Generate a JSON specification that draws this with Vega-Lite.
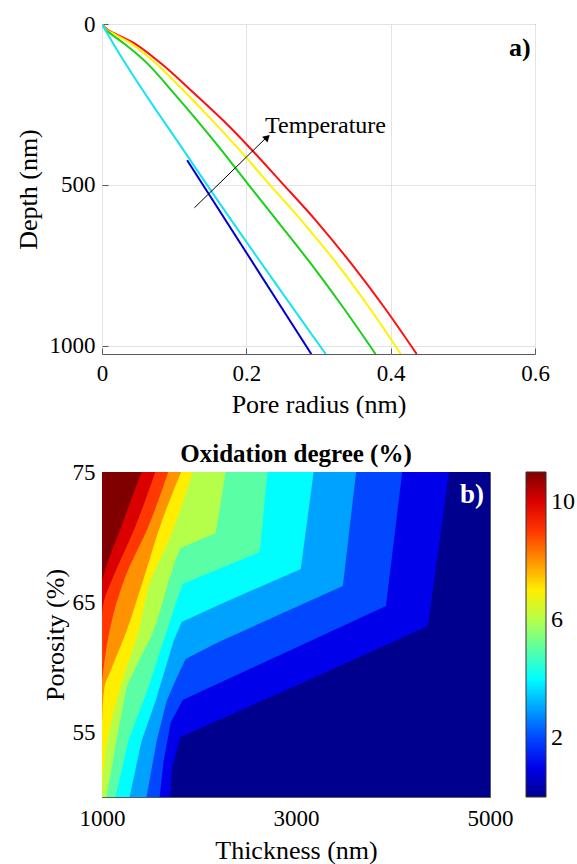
{
  "$schema": "https://vega.github.io/schema/vega-lite/v6.json",
  "background": "white",
  "padding": {"left": 14, "top": 12, "right": 5, "bottom": 5},
  "config": {
    "font": "'Liberation Serif', 'Times New Roman', serif",
    "view": {"stroke": "#5a5a5a", "strokeWidth": 1},
    "axis": {
      "domain": false,
      "labelFont": "'Liberation Serif', 'Times New Roman', serif",
      "labelFontSize": 23,
      "labelColor": "#000000",
      "titleFont": "'Liberation Serif', 'Times New Roman', serif",
      "titleFontSize": 26,
      "titleFontWeight": "normal",
      "titleColor": "#000000",
      "tickColor": "#5a5a5a",
      "tickSize": -6,
      "labelFlush": false,
      "labelOverlap": false,
      "grid": false
    },
    "legend": {"labelFont": "'Liberation Serif', 'Times New Roman', serif"},
    "title": {"font": "'Liberation Serif', 'Times New Roman', serif"},
    "text": {"font": "'Liberation Serif', 'Times New Roman', serif"}
  },
  "datasets": {
    "lines": [
      {"s": "red", "r": 0, "d": 0}, {"s": "red", "r": 0.006, "d": 15}, {"s": "red", "r": 0.018, "d": 30}, {"s": "red", "r": 0.045, "d": 60}, {"s": "red", "r": 0.082, "d": 123}, {"s": "red", "r": 0.128, "d": 216}, {"s": "red", "r": 0.168, "d": 300}, {"s": "red", "r": 0.205, "d": 385}, {"s": "red", "r": 0.247, "d": 488}, {"s": "red", "r": 0.297, "d": 612}, {"s": "red", "r": 0.346, "d": 746}, {"s": "red", "r": 0.392, "d": 883}, {"s": "red", "r": 0.436, "d": 1025},
      {"s": "yellow", "r": 0, "d": 0}, {"s": "yellow", "r": 0.005, "d": 15}, {"s": "yellow", "r": 0.016, "d": 30}, {"s": "yellow", "r": 0.04, "d": 60}, {"s": "yellow", "r": 0.075, "d": 123}, {"s": "yellow", "r": 0.117, "d": 216}, {"s": "yellow", "r": 0.153, "d": 300}, {"s": "yellow", "r": 0.188, "d": 385}, {"s": "yellow", "r": 0.228, "d": 488}, {"s": "yellow", "r": 0.277, "d": 612}, {"s": "yellow", "r": 0.326, "d": 746}, {"s": "yellow", "r": 0.371, "d": 883}, {"s": "yellow", "r": 0.414, "d": 1025},
      {"s": "green", "r": 0, "d": 0}, {"s": "green", "r": 0.004, "d": 15}, {"s": "green", "r": 0.012, "d": 30}, {"s": "green", "r": 0.03, "d": 60}, {"s": "green", "r": 0.063, "d": 123}, {"s": "green", "r": 0.1, "d": 216}, {"s": "green", "r": 0.132, "d": 300}, {"s": "green", "r": 0.163, "d": 385}, {"s": "green", "r": 0.199, "d": 488}, {"s": "green", "r": 0.243, "d": 612}, {"s": "green", "r": 0.29, "d": 746}, {"s": "green", "r": 0.335, "d": 883}, {"s": "green", "r": 0.379, "d": 1025},
      {"s": "cyan", "r": 0, "d": 0}, {"s": "cyan", "r": 0.005, "d": 20}, {"s": "cyan", "r": 0.12, "d": 415}, {"s": "cyan", "r": 0.31, "d": 1025},
      {"s": "blue", "r": 0.118, "d": 423}, {"s": "blue", "r": 0.29, "d": 1025}
    ],
    "arrow": [{"r": 0.128, "d": 571, "r2": 0.229, "d2": 350}],
    "arrowhead": [{"r": 0.229, "d": 352}],
    "tempLabel": [{"r": 0.226, "d": 318, "t": "Temperature"}],
    "panelA": [{"r": 0.594, "d": 100, "t": "a)"}],
    "bands": [
      {"level": 0, "P": 50, "T": 5000}, {"level": 0, "P": 75, "T": 5000},
      {"level": 1, "P": 75, "T": 4577}, {"level": 1, "P": 63.15, "T": 4360}, {"level": 1, "P": 58.31, "T": 2925}, {"level": 1, "P": 54.62, "T": 1810}, {"level": 1, "P": 53.54, "T": 1769}, {"level": 1, "P": 52.0, "T": 1717}, {"level": 1, "P": 50, "T": 1704},
      {"level": 2, "P": 75, "T": 4095}, {"level": 2, "P": 64.69, "T": 3927}, {"level": 2, "P": 61.23, "T": 2925}, {"level": 2, "P": 57.46, "T": 1831}, {"level": 2, "P": 55.69, "T": 1707}, {"level": 2, "P": 52.77, "T": 1635}, {"level": 2, "P": 50, "T": 1594},
      {"level": 3, "P": 75, "T": 3620}, {"level": 3, "P": 66.23, "T": 3483}, {"level": 3, "P": 61.92, "T": 2203}, {"level": 3, "P": 60.62, "T": 1862}, {"level": 3, "P": 59.15, "T": 1769}, {"level": 3, "P": 57.38, "T": 1666}, {"level": 3, "P": 54.31, "T": 1563}, {"level": 3, "P": 50, "T": 1459},
      {"level": 4, "P": 75, "T": 3182}, {"level": 4, "P": 67.54, "T": 3049}, {"level": 4, "P": 64.77, "T": 2203}, {"level": 4, "P": 63.46, "T": 1821}, {"level": 4, "P": 62.0, "T": 1738}, {"level": 4, "P": 59.69, "T": 1645}, {"level": 4, "P": 57.38, "T": 1552}, {"level": 4, "P": 54.31, "T": 1408}, {"level": 4, "P": 50, "T": 1284},
      {"level": 5, "P": 75, "T": 2707}, {"level": 5, "P": 68.85, "T": 2626}, {"level": 5, "P": 66.38, "T": 1831}, {"level": 5, "P": 65.31, "T": 1779}, {"level": 5, "P": 63.15, "T": 1686}, {"level": 5, "P": 60.85, "T": 1583}, {"level": 5, "P": 58.46, "T": 1480}, {"level": 5, "P": 54.38, "T": 1274}, {"level": 5, "P": 50, "T": 1139},
      {"level": 6, "P": 75, "T": 2275}, {"level": 6, "P": 70.31, "T": 2172}, {"level": 6, "P": 69.15, "T": 1810}, {"level": 6, "P": 68.46, "T": 1769}, {"level": 6, "P": 66.62, "T": 1686}, {"level": 6, "P": 63.92, "T": 1583}, {"level": 6, "P": 62.38, "T": 1511}, {"level": 6, "P": 60.46, "T": 1377}, {"level": 6, "P": 58.46, "T": 1253}, {"level": 6, "P": 54.38, "T": 1150}, {"level": 6, "P": 50, "T": 1046},
      {"level": 7, "P": 75, "T": 1935}, {"level": 7, "P": 72.38, "T": 1820}, {"level": 7, "P": 70.08, "T": 1707}, {"level": 7, "P": 66.62, "T": 1501}, {"level": 7, "P": 62.77, "T": 1377}, {"level": 7, "P": 58.46, "T": 1191}, {"level": 7, "P": 54.38, "T": 1057}, {"level": 7, "P": 50.85, "T": 1005}, {"level": 7, "P": 50, "T": 1000},
      {"level": 8, "P": 75, "T": 1815}, {"level": 8, "P": 71.38, "T": 1625}, {"level": 8, "P": 66.77, "T": 1428}, {"level": 8, "P": 62.77, "T": 1253}, {"level": 8, "P": 59.69, "T": 1088}, {"level": 8, "P": 58.46, "T": 1026}, {"level": 8, "P": 55.85, "T": 1000},
      {"level": 9, "P": 75, "T": 1683}, {"level": 9, "P": 70.85, "T": 1480}, {"level": 9, "P": 66.77, "T": 1232}, {"level": 9, "P": 63.15, "T": 1088}, {"level": 9, "P": 60.46, "T": 1026}, {"level": 9, "P": 58.92, "T": 1000},
      {"level": 10, "P": 75, "T": 1550}, {"level": 10, "P": 70.85, "T": 1346}, {"level": 10, "P": 66.62, "T": 1098}, {"level": 10, "P": 65.23, "T": 1026}, {"level": 10, "P": 64.15, "T": 1000},
      {"level": 11, "P": 75, "T": 1405}, {"level": 11, "P": 70.85, "T": 1201}, {"level": 11, "P": 67.54, "T": 1036}, {"level": 11, "P": 66.62, "T": 1000}
    ],
    "panelB": [{"T": 4938, "P": 72.6, "t": "b)"}]
  },
  "vconcat": [
    {
      "width": 433,
      "height": 330,
      "layer": [
        {
          "data": {"name": "lines"},
          "mark": {"type": "line", "strokeWidth": 2, "clip": true, "interpolate": "monotone"},
          "encoding": {
            "x": {"field": "r", "type": "quantitative", "scale": {"domain": [0, 0.6], "nice": false},
              "axis": {"values": [0, 0.2, 0.4, 0.6], "format": "~g", "grid": true, "gridColor": "#e3e3e3", "title": "Pore radius (nm)", "labelPadding": 14, "titlePadding": 6}},
            "y": {"field": "d", "type": "quantitative", "scale": {"domain": [0, 1025], "nice": false, "reverse": true},
              "axis": {"values": [0, 500, 1000], "format": "d", "grid": true, "gridColor": "#e3e3e3", "title": "Depth (nm)", "labelPadding": 13, "titlePadding": 8}},
            "color": {"field": "s", "type": "nominal", "scale": {"domain": ["blue", "cyan", "green", "yellow", "red"], "range": ["#0000d0", "#19e3f0", "#18d018", "#fff200", "#ff1010"]}, "legend": null},
            "order": {"field": "d", "type": "quantitative"}
          }
        },
        {
          "data": {"name": "arrow"},
          "mark": {"type": "rule", "color": "#000000", "strokeWidth": 1},
          "encoding": {
            "x": {"field": "r", "type": "quantitative"},
            "y": {"field": "d", "type": "quantitative"},
            "x2": {"field": "r2"},
            "y2": {"field": "d2"}
          }
        },
        {
          "data": {"name": "arrowhead"},
          "mark": {"type": "point", "shape": "triangle-up", "filled": true, "color": "#000000", "size": 60, "angle": 46, "opacity": 1},
          "encoding": {
            "x": {"field": "r", "type": "quantitative"},
            "y": {"field": "d", "type": "quantitative"}
          }
        },
        {
          "data": {"name": "tempLabel"},
          "mark": {"type": "text", "align": "left", "baseline": "middle", "fontSize": 24, "color": "#000000"},
          "encoding": {
            "x": {"field": "r", "type": "quantitative"},
            "y": {"field": "d", "type": "quantitative"},
            "text": {"field": "t"}
          }
        },
        {
          "data": {"name": "panelA"},
          "mark": {"type": "text", "align": "right", "baseline": "alphabetic", "fontSize": 26, "fontWeight": "bold", "color": "#000000"},
          "encoding": {
            "x": {"field": "r", "type": "quantitative"},
            "y": {"field": "d", "type": "quantitative"},
            "text": {"field": "t"}
          }
        }
      ]
    },
    {
      "width": 388,
      "height": 325,
      "title": {"text": "Oxidation degree (%)", "fontSize": 25, "fontWeight": "bold", "color": "#000000", "offset": -6, "anchor": "middle"},
      "encoding": {
        "y": {"field": "P", "type": "quantitative", "scale": {"domain": [50, 75], "nice": false},
          "axis": {"values": [55, 60, 65, 70, 75], "labelExpr": "datum.value % 10 == 5 ? datum.label : ''", "title": "Porosity (%)", "labelPadding": 13, "titlePadding": 4}},
        "x": {"field": "T", "type": "quantitative", "scale": {"domain": [1000, 5000], "nice": false},
          "axis": {"values": [1000, 2000, 3000, 4000, 5000], "format": "d", "labelExpr": "datum.value % 2000 == 1000 ? datum.label : ''", "title": "Thickness (nm)", "labelPadding": 16, "titlePadding": 7}}
      },
      "layer": [
        {
          "data": {"name": "bands"},
          "transform": [{"filter": "datum.level <= 6"}],
          "mark": {"type": "area", "orient": "horizontal", "clip": true, "opacity": 1, "interpolate": "linear"},
          "encoding": {
            "x2": {"datum": 1000},
            "detail": {"field": "level", "type": "nominal"},
            "color": {"field": "level", "type": "quantitative",
              "scale": {"domain": [0, 1.222, 4.016, 6.81, 9.603, 11], "range": ["#00008f", "#0000ff", "#00ffff", "#ffff00", "#ff0000", "#800000"], "interpolate": "rgb"},
              "legend": {"title": null, "orient": "right", "values": [2, 6, 10], "gradientLength": 325, "gradientThickness": 20, "labelFontSize": 24, "labelColor": "#000000", "offset": 36, "padding": 0, "gradientStrokeColor": "#333333", "gradientStrokeWidth": 1, "labelOffset": 5}}
          }
        },
        {
          "data": {"name": "bands"},
          "transform": [{"filter": "datum.level >= 7"}],
          "mark": {"type": "area", "orient": "horizontal", "clip": true, "opacity": 1, "interpolate": "monotone"},
          "encoding": {
            "x2": {"datum": 1000},
            "detail": {"field": "level", "type": "nominal"},
            "color": {"field": "level", "type": "quantitative"}
          }
        },
        {
          "data": {"name": "panelB"},
          "mark": {"type": "text", "align": "right", "baseline": "alphabetic", "fontSize": 27, "fontWeight": "bold", "color": "#ffffff"},
          "encoding": {
            "text": {"field": "t"}
          }
        }
      ]
    }
  ],
  "spacing": 118,
  "bounds": "flush"
}
